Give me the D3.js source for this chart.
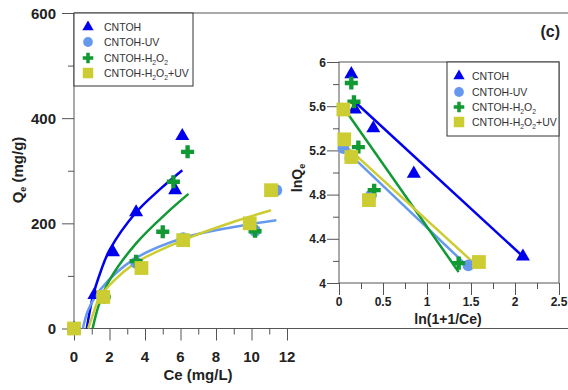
<!DOCTYPE html>
<html>
<head>
<meta charset="utf-8">
<script src="https://cdn.jsdelivr.net/npm/d3@7"></script>
<style>
  body { margin: 0; background: #fff; }
  svg { font-family: "Liberation Sans", Arial, sans-serif; }
</style>
</head>
<body>
<script>
const width = 568, height = 390;

// main plot: Qe vs Ce
const seriesNames = ["CNTOH", "CNTOH-UV", "CNTOH-H2O2", "CNTOH-H2O2+UV"];
const colors = ["#0000ee", "#6699ee", "#119933", "#cccc33"];

const ceTri = [0, 1.15, 2.2, 3.5, 5.7, 6.1];
const qeTri = [0, 64, 145, 221, 263, 366];
const ceCirc = [0, 1.55, 3.5, 6.15, 10.2, 11.4];
const qeCirc = [0, 62, 125, 172, 186, 263];
const cePlus = [0, 1.7, 3.5, 5.0, 5.6, 6.4, 10.2];
const qePlus = [0, 60, 128, 184, 279, 336, 185];
const ceSq = [0, 1.65, 3.8, 6.15, 9.9, 11.1];
const qeSq = [0, 60, 115, 168, 200, 263];

// fitted curves
const fitCeTri = [0.72, 1.07, 1.5, 2.0, 3.5, 4.85, 6.1];
const fitQeTri = [0, 62, 108, 149, 221, 265, 301];
const fitCeCirc = [0.5, 0.8, 1.46, 3.3, 6.15, 9.0, 11.4];
const fitQeCirc = [0, 35, 73, 130, 172, 193, 206];
const fitCePlus = [1.05, 1.4, 2.0, 3.5, 5.2, 6.45];
const fitQePlus = [0, 45, 92, 162, 219, 256];
const fitCeSq = [0.8, 1.1, 1.46, 3.3, 6.15, 9.0, 11.1];
const fitQeSq = [0, 30, 60, 121, 168, 203, 225];

// inset: lnQe vs ln(1+1/Ce)
const lxTri = [0.14, 0.18, 0.39, 0.85, 2.09];
const lyTri = [5.89, 5.57, 5.40, 4.99, 4.24];
const lxCirc = [0.05, 0.13, 0.36, 1.47];
const lyCirc = [5.22, 5.13, 4.79, 4.16];
const lxPlus = [0.14, 0.17, 0.22, 0.40, 1.36];
const lyPlus = [5.81, 5.64, 5.23, 4.84, 4.18];
const lxSq = [0.05, 0.06, 0.14, 0.34, 1.59];
const lySq = [5.57, 5.30, 5.14, 4.75, 4.19];

const lineX = [[0.18, 2.09], [0.05, 1.45], [0.11, 1.36], [0.09, 1.52]];
const lineY = [[5.64, 4.24], [5.22, 4.16], [5.52, 4.10], [5.23, 4.19]];

const mainXTicks = [0, 2, 4, 6, 8, 10, 12];
const mainYTicks = [0, 200, 400, 600];
const insetXTicks = [0, 0.5, 1, 1.5, 2, 2.5];
const insetYTicks = [4, 4.4, 4.8, 5.2, 5.6, 6];

const zip = (a, b) => a.map((v, i) => [v, b[i]]);

const symTypes = [d3.symbolTriangle, d3.symbolCircle, d3.symbolCross, d3.symbolSquare];
const symSizes = [85, 110, 95, 190];
const legSizes = [55, 75, 62, 110];

const svg = d3.create("svg")
  .attr("width", width)
  .attr("height", height)
  .attr("viewBox", [0, 0, width, height]);

const frameColor = "#555";
const textColor = "#222";

// ---------- main ----------
const x = d3.scaleLinear().domain([0, 12]).range([74, 287]);
const y = d3.scaleLinear().domain([0, 600]).range([328.5, 13]);

// frame
svg.append("line").attr("x1", 74).attr("x2", width).attr("y1", y(600)).attr("y2", y(600))
  .attr("stroke", frameColor);
svg.append("line").attr("x1", 74).attr("x2", width).attr("y1", y(0)).attr("y2", y(0))
  .attr("stroke", frameColor);
svg.append("line").attr("x1", 74).attr("x2", 74).attr("y1", y(600)).attr("y2", y(0))
  .attr("stroke", frameColor);

const xAxis = svg.append("g")
  .attr("transform", `translate(0,${y(0)})`)
  .call(d3.axisBottom(x).tickValues(d3.range(0, 13, 1)).tickSize(6).tickFormat(""));
xAxis.select(".domain").remove();
xAxis.selectAll(".tick line").attr("stroke", frameColor)
  .attr("y2", d => d % 2 === 0 ? 12 : 6);
svg.append("g").selectAll("text").data(mainXTicks).join("text")
  .attr("x", d => x(d)).attr("y", 362)
  .attr("text-anchor", "middle").attr("font-size", 15).attr("font-weight", "bold")
  .attr("fill", textColor).text(d => d);

const yAxis = svg.append("g")
  .attr("transform", "translate(74,0)")
  .call(d3.axisLeft(y).tickValues(d3.range(0, 601, 100)).tickFormat(""));
yAxis.select(".domain").remove();
yAxis.selectAll(".tick line").attr("stroke", frameColor)
  .attr("x2", d => d % 200 === 0 ? -12 : -6);
svg.append("g").selectAll("text").data(mainYTicks).join("text")
  .attr("x", 56).attr("y", d => y(d) + 5.5)
  .attr("text-anchor", "end").attr("font-size", 15).attr("font-weight", "bold")
  .attr("fill", textColor).text(d => d);

// axis titles
svg.append("text").attr("x", 198).attr("y", 380).attr("text-anchor", "middle")
  .attr("font-size", 15).attr("font-weight", "bold").attr("fill", textColor)
  .text("Ce (mg/L)");
const yt = svg.append("text").attr("transform", "translate(23,170) rotate(-90)")
  .attr("text-anchor", "middle").attr("font-size", 15).attr("font-weight", "bold")
  .attr("fill", textColor);
yt.append("tspan").text("Q");
yt.append("tspan").attr("font-size", 9).attr("dy", 3).text("e");
yt.append("tspan").attr("dy", -3).text(" (mg/g)");

// fitted curves
const curve = d3.line().x(d => x(d[0])).y(d => y(d[1])).curve(d3.curveCatmullRom.alpha(0.5));
const fits = [zip(fitCeTri, fitQeTri), zip(fitCeCirc, fitQeCirc),
  zip(fitCePlus, fitQePlus), zip(fitCeSq, fitQeSq)];
svg.append("g").attr("fill", "none").attr("stroke-width", 2.5)
  .selectAll("path").data(fits).join("path")
  .attr("stroke", (d, i) => colors[i])
  .attr("d", curve);

// markers
const mainPts = [zip(ceTri, qeTri), zip(ceCirc, qeCirc), zip(cePlus, qePlus), zip(ceSq, qeSq)];
const drawOrder = [0, 1, 2, 3];
drawOrder.forEach(i => {
  svg.append("g").selectAll("path").data(mainPts[i]).join("path")
    .attr("transform", d => `translate(${x(d[0])},${y(d[1])})`)
    .attr("d", d3.symbol().type(symTypes[i]).size(symSizes[i]))
    .attr("fill", colors[i]);
});

function subText(sel, name) {
  if (name === "CNTOH-H2O2" || name === "CNTOH-H2O2+UV") {
    sel.append("tspan").text("CNTOH-H");
    sel.append("tspan").attr("font-size", "0.65em").attr("dy", 3).text("2");
    sel.append("tspan").attr("dy", -3).text("O");
    sel.append("tspan").attr("font-size", "0.65em").attr("dy", 3).text("2");
    sel.append("tspan").attr("dy", -3).text(name.endsWith("+UV") ? "+UV" : "");
  } else {
    sel.text(name);
  }
}

function legend(x0, y0, w, h, rowY, symX, txtX) {
  const g = svg.append("g");
  g.append("rect").attr("x", x0).attr("y", y0).attr("width", w).attr("height", h)
    .attr("fill", "#fff").attr("stroke", "#333");
  seriesNames.forEach((name, i) => {
    g.append("path").attr("transform", `translate(${symX},${rowY[i]})`)
      .attr("d", d3.symbol().type(symTypes[i]).size(legSizes[i]))
      .attr("fill", colors[i]);
    const t = g.append("text").attr("x", txtX).attr("y", rowY[i] + 3.5)
      .attr("font-size", 10.5).attr("fill", "#333");
    subText(t, name);
  });
}

legend(74, 13, 119, 73, [27, 42, 58, 73], 88, 104);

// (c)
svg.append("text").attr("x", 560).attr("y", 37).attr("text-anchor", "end")
  .attr("font-size", 16).attr("font-weight", "bold").attr("fill", textColor).text("(c)");

// ---------- inset ----------
const ix = d3.scaleLinear().domain([0, 2.5]).range([339, 559]);
const iy = d3.scaleLinear().domain([4, 6]).range([283, 62]);

svg.append("rect").attr("x", ix(0)).attr("y", iy(6))
  .attr("width", ix(2.5) - ix(0)).attr("height", iy(4) - iy(6))
  .attr("fill", "#fff").attr("stroke", frameColor);

const ixAxis = svg.append("g").attr("transform", `translate(0,${iy(4)})`)
  .call(d3.axisBottom(ix).tickValues(d3.range(0, 2.51, 0.25)).tickFormat(""));
ixAxis.select(".domain").remove();
ixAxis.selectAll(".tick line").attr("stroke", frameColor)
  .attr("y2", (d, i) => i % 2 === 0 ? 12 : 6);
svg.append("g").selectAll("text").data(insetXTicks).join("text")
  .attr("x", d => ix(d)).attr("y", 306)
  .attr("text-anchor", "middle").attr("font-size", 12).attr("font-weight", "bold")
  .attr("fill", textColor).text(d => d);

const iyAxis = svg.append("g").attr("transform", `translate(${ix(0)},0)`)
  .call(d3.axisLeft(iy).tickValues(d3.range(0, 11).map(k => 4 + k * 0.2)).tickFormat(""));
iyAxis.select(".domain").remove();
iyAxis.selectAll(".tick line").attr("stroke", frameColor)
  .attr("x2", (d, i) => i % 2 === 0 ? -12 : -6);
svg.append("g").selectAll("text").data(insetYTicks).join("text")
  .attr("x", 326).attr("y", d => iy(d) + 4.5)
  .attr("text-anchor", "end").attr("font-size", 12).attr("font-weight", "bold")
  .attr("fill", textColor).text(d => d);

svg.append("text").attr("x", 448).attr("y", 324).attr("text-anchor", "middle")
  .attr("font-size", 14).attr("font-weight", "bold").attr("fill", textColor)
  .text("ln(1+1/Ce)");
const it = svg.append("text").attr("transform", "translate(302,178) rotate(-90)")
  .attr("text-anchor", "middle").attr("font-size", 14).attr("font-weight", "bold")
  .attr("fill", textColor);
it.append("tspan").text("lnQ");
it.append("tspan").attr("font-size", 9).attr("dy", 3).text("e");

// linear fits
const straight = d3.line().x(d => ix(d[0])).y(d => iy(d[1]));
svg.append("g").attr("fill", "none").attr("stroke-width", 2.5)
  .selectAll("path").data(lineX.map((xs, i) => zip(xs, lineY[i]))).join("path")
  .attr("stroke", (d, i) => colors[i])
  .attr("d", straight);

const insetPts = [zip(lxTri, lyTri), zip(lxCirc, lyCirc), zip(lxPlus, lyPlus), zip(lxSq, lySq)];
drawOrder.forEach(i => {
  svg.append("g").selectAll("path").data(insetPts[i]).join("path")
    .attr("transform", d => `translate(${ix(d[0])},${iy(d[1])})`)
    .attr("d", d3.symbol().type(symTypes[i]).size(symSizes[i]))
    .attr("fill", colors[i]);
});

legend(447, 62, 112, 74, [76, 92, 107, 122], 459, 472);

document.body.appendChild(svg.node());
</script>
</body>
</html>
